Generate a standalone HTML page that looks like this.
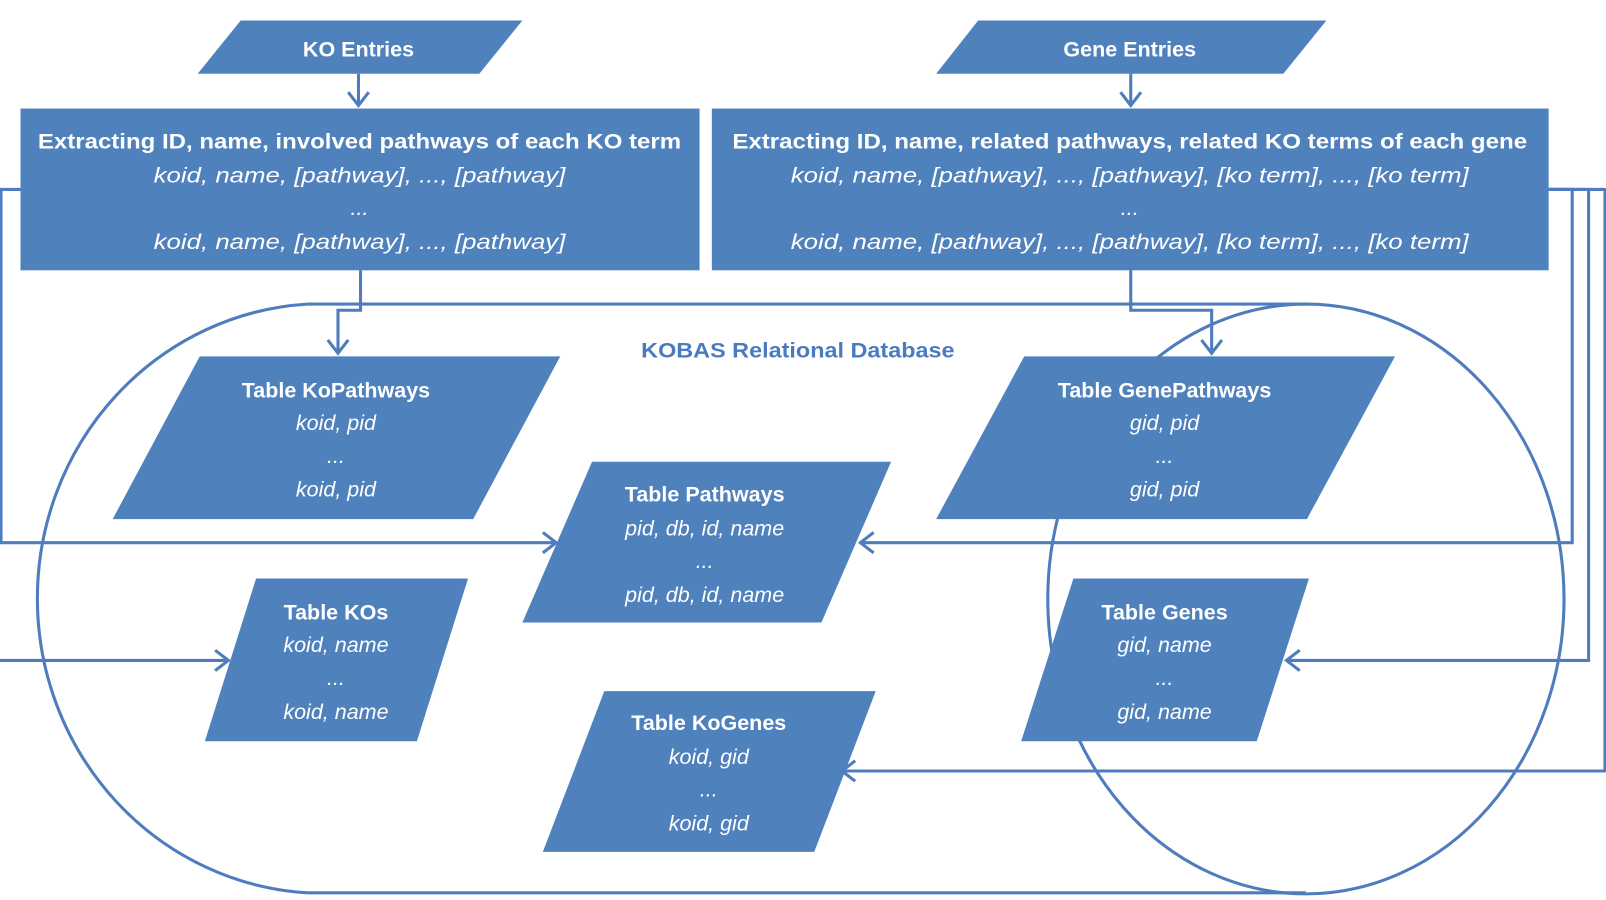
<!DOCTYPE html>
<html><head><meta charset="utf-8"><style>
html,body{margin:0;padding:0;background:#fff;}
svg{display:block;}
text{font-family:"Liberation Sans",sans-serif;fill:#fff;text-anchor:middle;}
.b{font-weight:bold;font-size:21px;}
.i{font-style:italic;font-size:21px;}
</style></head><body>
<svg width="1606" height="900" viewBox="0 0 1568 879" preserveAspectRatio="none" xmlns="http://www.w3.org/2000/svg">
<g fill="none" stroke="#4f7cbd" stroke-width="3">
 <path d="M300,297 L1275,297 M300,872 L1275,872 M300,297 A280,288 0 0 0 300,872"/>
 <ellipse cx="1275" cy="585" rx="252" ry="288"/>
 <path d="M350,72 V103 M340,90 L350,103 L360,90"/>
 <path d="M1104,72 V103 M1094,90 L1104,103 L1114,90"/>
 <path d="M352,264 V303 H330 V345 M320,332 L330,345 L340,332"/>
 <path d="M1104,264 V303 H1183 V345 M1173,332 L1183,345 L1193,332"/>
 <path d="M20,185 H1 V530 H543 M530,520 L543,530 L530,540"/>
 <path d="M0,645 H223 M210,635 L223,645 L210,655"/>
 <path d="M1512,185 H1567 V753 H822 M835,743 L822,753 L835,763"/>
 <path d="M1512,185 H1551 V645 H1256 M1269,635 L1256,645 L1269,655"/>
 <path d="M1512,185 H1535 V530 H840 M853,520 L840,530 L853,540"/>
</g>
<g fill="#4f81bd">
 <polygon points="235,20 510,20 468,72 193,72"/>
 <polygon points="955,20 1295,20 1253,72 914,72"/>
 <rect x="20" y="106" width="663" height="158"/>
 <rect x="695" y="106" width="817" height="158"/>
 <polygon points="195,348 547,348 462,507 110,507"/>
 <polygon points="578,451 870,451 802,608 510,608"/>
 <polygon points="1000,348 1362,348 1276,507 914,507"/>
 <polygon points="250,565 457,565 407,724 200,724"/>
 <polygon points="1048,565 1278,565 1227,724 997,724"/>
 <polygon points="590,675 855,675 795,832 530,832"/>
</g>
<text class="b" x="350" y="55">KO Entries</text>
<text class="b" x="1103" y="55">Gene Entries</text>
<text class="b" x="351" y="145" textLength="628" lengthAdjust="spacingAndGlyphs">Extracting ID, name, involved pathways of each KO term</text>
<text class="i" x="351" y="178" textLength="402" lengthAdjust="spacingAndGlyphs">koid, name, [pathway], ..., [pathway]</text>
<text class="i" x="351" y="210">...</text>
<text class="i" x="351" y="243" textLength="402" lengthAdjust="spacingAndGlyphs">koid, name, [pathway], ..., [pathway]</text>
<text class="b" x="1103" y="145" textLength="776" lengthAdjust="spacingAndGlyphs">Extracting ID, name, related pathways, related KO terms of each gene</text>
<text class="i" x="1103" y="178" textLength="662" lengthAdjust="spacingAndGlyphs">koid, name, [pathway], ..., [pathway], [ko term], ..., [ko term]</text>
<text class="i" x="1103" y="210">...</text>
<text class="i" x="1103" y="243" textLength="662" lengthAdjust="spacingAndGlyphs">koid, name, [pathway], ..., [pathway], [ko term], ..., [ko term]</text>
<text class="b" x="779" y="349" style="fill:#4a7bbf" textLength="306" lengthAdjust="spacingAndGlyphs">KOBAS Relational Database</text>

<text class="b" x="328" y="388">Table KoPathways</text>
<text class="i" x="328" y="420">koid, pid</text>
<text class="i" x="328" y="452">...</text>
<text class="i" x="328" y="485">koid, pid</text>

<text class="b" x="688" y="490">Table Pathways</text>
<text class="i" x="688" y="523">pid, db, id, name</text>
<text class="i" x="688" y="555">...</text>
<text class="i" x="688" y="588">pid, db, id, name</text>

<text class="b" x="1137" y="388">Table GenePathways</text>
<text class="i" x="1137" y="420">gid, pid</text>
<text class="i" x="1137" y="452">...</text>
<text class="i" x="1137" y="485">gid, pid</text>

<text class="b" x="328" y="605">Table KOs</text>
<text class="i" x="328" y="637">koid, name</text>
<text class="i" x="328" y="669">...</text>
<text class="i" x="328" y="702">koid, name</text>

<text class="b" x="1137" y="605">Table Genes</text>
<text class="i" x="1137" y="637">gid, name</text>
<text class="i" x="1137" y="669">...</text>
<text class="i" x="1137" y="702">gid, name</text>

<text class="b" x="692" y="713">Table KoGenes</text>
<text class="i" x="692" y="746">koid, gid</text>
<text class="i" x="692" y="778">...</text>
<text class="i" x="692" y="811">koid, gid</text>
</svg>
</body></html>
